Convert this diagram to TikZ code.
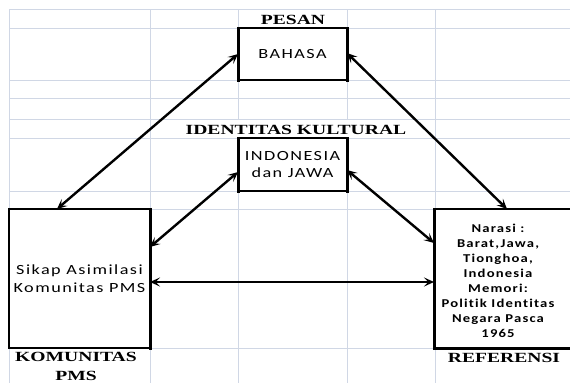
\documentclass[tikz,border=0pt]{standalone}
\usepackage{fontspec}
\usepackage{graphicx}
\setmainfont{Liberation Serif}
\newfontfamily\calfont[LetterSpace=8,Ligatures=NoCommon]{Carlito}
\usetikzlibrary{arrows.meta}
\definecolor{gridc}{RGB}{208,215,229}
\newcommand\hs[1]{\scalebox{1.3}[1]{#1}}
\newcommand\hr[1]{\scalebox{1.22}[1]{#1}}
\newcommand\hsr[1]{\scalebox{1.4}[1]{#1}}
\begin{document}
\begin{tikzpicture}[x=1pt,y=-1pt,
  gridline/.style={gridc,line width=1pt},
  box/.style={draw,fill=white,line width=1.5pt,inner sep=0pt,outer sep=0pt,align=center,
    font=\calfont\fontsize{14}{18}\selectfont},
  thickside/.style={line width=3pt,line cap=rect},
  rtxt/.style={inner sep=0pt,align=center,font=\calfont\bfseries\fontsize{12}{15}\selectfont},
  lab/.style={inner sep=0pt,align=center,font=\fontsize{14}{19}\selectfont\bfseries},
  arr/.style={line width=2.4pt,{Stealth[length=10pt,width=9pt,inset=4.5pt]}-{Stealth[length=10pt,width=9pt,inset=4.5pt]}}]
\useasboundingbox (0,0) rectangle (570,383);
\clip (0,0) rectangle (570,383);
\fill[white] (0,0) rectangle (570,383);
% spreadsheet grid
\foreach \x in {9,150,238,347,435} \draw[gridline] (\x,9) -- (\x,383);
\foreach \y in {9,28,80,98,119,138,191,209,348} \draw[gridline] (9,\y) -- (570,\y);
\fill[white] (180,120) rectangle (412,137.5);
% boxes
\node[box,minimum width=109pt,minimum height=52pt] (bahasa) at (292.5,54) {\hs{BAHASA}};
\node[box,minimum width=109pt,minimum height=53pt] (indo) at (292.5,164.5) {\hs{INDONESIA}\\[-1pt]\hs{dan JAWA}};
\node[box,minimum width=141pt,minimum height=139pt] (lbox) at (79.5,278.5) {\hs{Sikap Asimilasi}\\\hs{Komunitas PMS}};
\node[box,minimum width=146pt,minimum height=139pt] (rbox) at (507,278.5) {};
\node[rtxt] (rtext) at (498,281) {\hr{Narasi :}\\\hr{Barat,Jawa,}\\\hr{Tionghoa,}\\\hr{Indonesia}\\\hr{Memori:}\\\hr{Politik Identitas}\\\hr{Negara Pasca}\\\hr{1965}};
% thicker sides
\draw[thickside] (bahasa.north west) -- (bahasa.south west);
\draw[thickside] (bahasa.north east) -- (bahasa.south east);
\draw[thickside] (indo.north west) -- (indo.south west);
\draw[thickside] (indo.north east) -- (indo.south east);
\draw[thickside] (lbox.north east) -- (lbox.south east);
\draw[thickside] (rbox.north west) -- (rbox.south west);
\draw[thickside] (rbox.south west) -- (rbox.south east);
% arrows
\draw[arr] ([xshift=-22.5pt]lbox.north) -- (bahasa.west);
\draw[arr] ([yshift=31.5pt]lbox.east) -- ([yshift=-7.5pt]indo.west);
\draw[arr] ([yshift=-3.5pt]lbox.east) -- ([yshift=-3.5pt]rbox.west);
\draw[arr] ([yshift=-5.5pt]indo.east) -- ([yshift=35.5pt]rbox.west);
\draw[arr] ([yshift=1pt]bahasa.east) -- (rbox.north);
% labels
\node[lab] (pesan) at (293,19.5) {\hsr{PESAN}};
\node[lab] (ident) at (296,129.5) {\hsr{IDENTITAS KULTURAL}};
\node[lab] (kom) at (76,366.5) {\hsr{KOMUNITAS}\\\hsr{PMS}};
\node[lab] (refer) at (504,358) {\hsr{REFERENSI}};
\end{tikzpicture}
\end{document}
